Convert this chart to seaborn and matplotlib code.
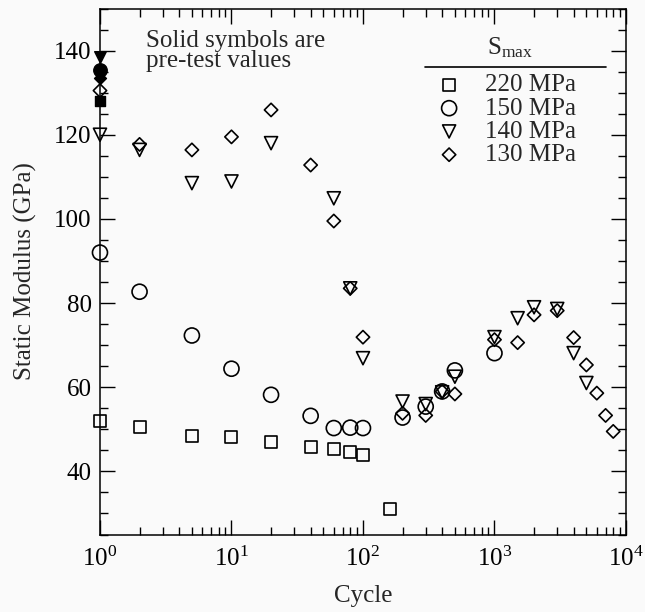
import numpy as np
import pandas as pd
import matplotlib
matplotlib.use("Agg")
import matplotlib.pyplot as plt
import seaborn as sns
from matplotlib.ticker import MultipleLocator, LogLocator, NullFormatter

# 데이터 (Cycle vs Static Modulus, GPa)
cyc_220 = [1, 2, 5, 10, 20, 40, 60, 80, 100, 160]
mod_220 = [51.9, 50.6, 48.5, 48.1, 46.9, 45.8, 45.3, 44.6, 43.8, 31.0]

cyc_150 = [1, 2, 5, 10, 20, 40, 60, 80, 100, 200, 300, 400, 500, 1000]
mod_150 = [92.0, 82.7, 72.3, 64.4, 58.2, 53.2, 50.3, 50.4, 50.3, 52.8, 55.4, 59.0, 64.0, 68.1]

cyc_140 = [1, 2, 5, 10, 20, 60, 80, 100, 200, 300, 400, 500, 1000, 1500, 2000, 3000, 4000, 5000]
mod_140 = [120.0, 116.4, 108.5, 108.9, 118.0, 104.9, 83.5, 66.9, 56.6, 56.0, 58.8, 62.5, 71.9, 76.4, 79.0, 78.6, 68.1, 61.0]

cyc_130 = [1, 2, 5, 10, 20, 40, 60, 80, 100, 200, 300, 400, 500, 1000, 1500, 2000, 3000, 4000, 5000, 6000, 7000, 8000]
mod_130 = [130.5, 117.7, 116.4, 119.5, 125.9, 112.8, 99.5, 83.5, 71.9, 53.8, 53.3, 59.0, 58.4, 71.3, 70.6, 77.2, 78.2, 71.8, 65.3, 58.6, 53.3, 49.5]

# pre-test values (solid symbols, cycle 1)
smax_labels = ['220 MPa', '150 MPa', '140 MPa', '130 MPa']
pre_cyc = [1, 1, 1, 1]
pre_mod = [128.0, 135.5, 138.5, 133.5]

bg = '#fafafa'
sns.set_style("ticks")
plt.rcParams['font.family'] = ['Liberation Serif', 'DejaVu Serif']
plt.rcParams['mathtext.fontset'] = 'custom'
plt.rcParams['mathtext.rm'] = 'Liberation Serif'
plt.rcParams['mathtext.it'] = 'Liberation Serif:italic'

fig = plt.figure(figsize=(6.45, 6.12), dpi=100, facecolor=bg)
ax = fig.add_axes([0.155, 0.1266, 0.8155, 0.8595])
ax.set_facecolor(bg)

markers = ['s', 'o', 'v', 'D']
sizes = [75, 117, 88, 46]
series = [(cyc_220, mod_220), (cyc_150, mod_150), (cyc_140, mod_140), (cyc_130, mod_130)]

# 열린 기호 (시험 중 값)
for (cyc, mod), mk, sz, lab in zip(series, markers, sizes, smax_labels):
    sns.scatterplot(x=cyc, y=mod, marker=mk, s=sz, facecolors='none', edgecolor='black',
                    linewidth=1.2, ax=ax, label=lab, legend=False, clip_on=False, zorder=3)
handles = list(ax.collections)

# 채워진 기호 (시험 전 값)
for c, m, mk, sz in zip(pre_cyc, pre_mod, markers, sizes):
    sns.scatterplot(x=[c], y=[m], marker=mk, s=sz * 0.8, color='black', edgecolor='black',
                    linewidth=1.0, ax=ax, legend=False, clip_on=False, zorder=4)

ax.set_xscale('log')
ax.set_xlim(1, 1e4)
ax.set_ylim(25, 150)
ax.set_yticks([40, 60, 80, 100, 120, 140])
ax.yaxis.set_minor_locator(MultipleLocator(5))
ax.xaxis.set_major_locator(LogLocator(base=10, numticks=10))
ax.xaxis.set_minor_locator(LogLocator(base=10, subs=np.arange(2, 10), numticks=20))
ax.xaxis.set_minor_formatter(NullFormatter())

ax.tick_params(which='both', direction='in', top=True, right=True, width=1.0,
               colors='black', labelsize=18)
ax.tick_params(which='major', length=11)
ax.tick_params(which='minor', length=5.5)
ax.tick_params(axis='x', pad=9)
ax.tick_params(axis='y', pad=6)
for sp in ax.spines.values():
    sp.set_linewidth(1.1)
    sp.set_color('black')

ax.set_xlabel('Cycle', fontsize=18, labelpad=10)
ax.set_ylabel('Static Modulus (GPa)', fontsize=18, labelpad=12)

ax.text(0.087, 0.927, 'Solid symbols are', transform=ax.transAxes, fontsize=18, va='baseline')
ax.text(0.087, 0.888, 'pre-test values', transform=ax.transAxes, fontsize=18, va='baseline')

# 범례 (S_max)
ax.text(0.779, 0.925, r'S$_{\mathrm{max}}$', transform=ax.transAxes, ha='center', va='center', fontsize=18)
ax.plot([0.618, 0.962], [0.889, 0.889], transform=ax.transAxes, color='black', lw=1.2)
ax.legend(handles=handles, labels=smax_labels, loc='upper left', bbox_to_anchor=(0.64, 0.8755),
          frameon=False, fontsize=18, handlelength=1.0, handletextpad=0.94, labelspacing=0.03,
          borderpad=0, borderaxespad=0, scatterpoints=1)

fig.savefig('out.png', dpi=100, facecolor=bg)
